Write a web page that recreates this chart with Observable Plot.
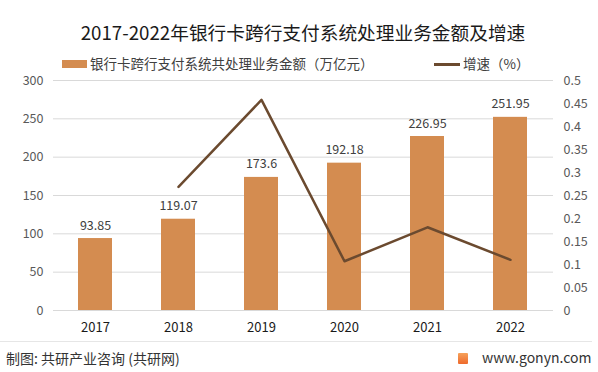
<!DOCTYPE html>
<html>
<head>
<meta charset="utf-8">
<script src="https://cdn.jsdelivr.net/npm/d3@7"></script>
<script src="https://cdn.jsdelivr.net/npm/@observablehq/plot@0.6"></script>
<style>
  html, body { margin: 0; padding: 0; background: #fff; }
  body { width: 598px; height: 372px; overflow: hidden; font-family: "Microsoft YaHei", "Noto Sans CJK SC", "Noto Sans", sans-serif; }
  #wrap { position: relative; width: 598px; height: 372px; }
  #chart { position: absolute; left: 0; top: 0; }
  .title { position: absolute; left: 0; width: 606px; top: 18px; text-align: center; font-size: 18.7px; color: #1a1a1a; line-height: 28px; }
  .legend { position: absolute; top: 54px; font-size: 13.5px; color: #404040; line-height: 18px; white-space: nowrap; }
  .sw-bar { display: inline-block; width: 25px; height: 8px; background: #D48C50; vertical-align: middle; margin-right: 3px; position: relative; top: -1px; }
  .sw-line { display: inline-block; width: 26px; height: 3px; background: #6B4A2F; vertical-align: middle; margin-right: 3px; position: relative; top: -1px; }
  .divider { position: absolute; left: 0; width: 592px; top: 341px; height: 1px; background: #e6e6e6; }
  .source { position: absolute; left: 6px; top: 348px; font-size: 14px; color: #333; line-height: 20px; }
  .site { position: absolute; left: 458px; top: 347px; font-size: 14px; color: #333; line-height: 20px; white-space: nowrap; }
  .logo { display: inline-block; width: 10px; height: 11px; background: linear-gradient(#f6a15a, #ee6a2c); vertical-align: middle; margin-right: 14px; border-radius: 1px; position: relative; top: -1px; }
</style>
</head>
<body>
<div id="wrap">
  <div id="chart"></div>
  <div class="title">2017-2022年银行卡跨行支付系统处理业务金额及增速</div>
  <div class="legend" style="left:62px"><span class="sw-bar"></span>银行卡跨行支付系统共处理业务金额（万亿元）</div>
  <div class="legend" style="left:434px"><span class="sw-line"></span>增速（%）</div>
  <div class="divider"></div>
  <div class="source">制图: 共研产业咨询 (共研网)</div>
  <div class="site"><span class="logo"></span>www.gonyn.com</div>
</div>
<script>
const years = ["2017", "2018", "2019", "2020", "2021", "2022"];
const amounts = [93.85, 119.07, 173.6, 192.18, 226.95, 251.95];
const amountLabels = ["93.85", "119.07", "173.6", "192.18", "226.95", "251.95"];
const growth = [null, 0.2687, 0.458, 0.107, 0.1809, 0.1102];
const leftTicks = [0, 50, 100, 150, 200, 250, 300];
const rightTicks = [0, 0.05, 0.1, 0.15, 0.2, 0.25, 0.3, 0.35, 0.4, 0.45, 0.5];
const rightTickLabels = ["0", "0.05", "0.1", "0.15", "0.2", "0.25", "0.3", "0.35", "0.4", "0.45", "0.5"];

// right axis max (0.5) aligned to left axis max (300)
const ratio = 300 / 0.5;

const bars = years.map((y, i) => ({year: y, value: amounts[i], label: amountLabels[i]}));
const line = years.map((y, i) => ({year: y, rate: growth[i]})).filter(d => d.rate != null);

const chart = Plot.plot({
  width: 598,
  height: 372,
  marginLeft: 53,
  marginRight: 45,
  marginTop: 80,
  marginBottom: 62,
  style: {fontFamily: "'Microsoft YaHei', 'Noto Sans CJK SC', 'Noto Sans', sans-serif", background: "transparent"},
  x: {domain: years, paddingInner: 0.59, paddingOuter: 0.295, label: null},
  y: {domain: [0, 300], label: null},
  marks: [
    Plot.gridY(leftTicks, {stroke: "#d9d9d9", strokeOpacity: 1, strokeWidth: 1}),
    Plot.barY(bars, {x: "year", y: "value", fill: "#D48C50"}),
    Plot.text(bars, {x: "year", y: "value", text: "label", dy: -13, fontSize: 12.5, fill: "#404040"}),
    Plot.lineY(line, {x: "year", y: d => d.rate * ratio, stroke: "#6B4A2F", strokeWidth: 2.5}),
    Plot.axisY({ticks: leftTicks, tickSize: 0, tickPadding: 10, fontSize: 12.5, color: "#595959", label: null}),
    Plot.axisY({anchor: "right", ticks: rightTicks.map(v => v * ratio), tickFormat: (d, i) => rightTickLabels[i], tickSize: 0, tickPadding: 10, fontSize: 12.5, color: "#595959", textAnchor: "start", label: null}),
    Plot.axisX({tickSize: 0, tickPadding: 12, fontSize: 13, color: "#1a1a1a", label: null})
  ]
});
document.getElementById("chart").appendChild(chart);
</script>
</body>
</html>
